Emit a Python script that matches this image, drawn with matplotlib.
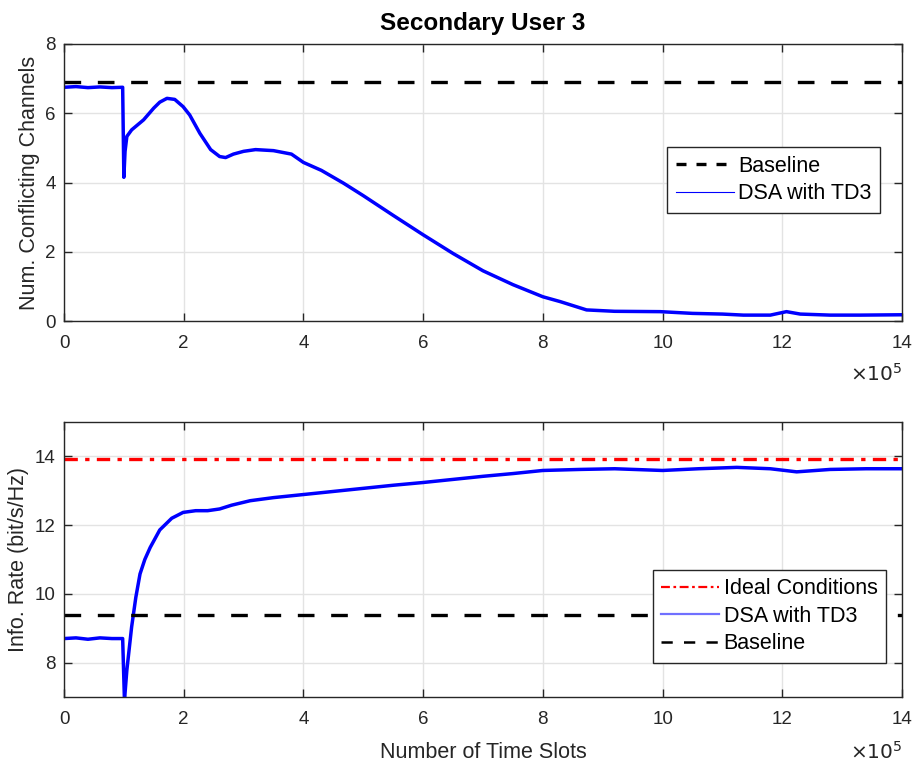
import matplotlib
matplotlib.use("Agg")
import matplotlib.pyplot as plt
from matplotlib.lines import Line2D

plt.rcParams['font.family'] = ['Liberation Sans', 'DejaVu Sans']

# time axis in units of 1e5 slots
x_top = [0, 0.2, 0.4, 0.6, 0.8, 0.98, 1.0, 1.02, 1.05, 1.13, 1.33, 1.5, 1.6, 1.72, 1.85,
         1.99, 2.1, 2.27, 2.45, 2.6, 2.7, 2.83, 3.0, 3.2, 3.5, 3.8, 4.0, 4.3, 4.67, 5.0,
         5.5, 6.0, 6.5, 7.0, 7.5, 8.0, 8.29, 8.73, 9.2, 9.96, 10.5, 11.0, 11.35, 11.8,
         12.07, 12.3, 12.8, 13.3, 14.0]
conflicts_td3 = [6.75, 6.77, 6.74, 6.76, 6.74, 6.75, 4.15, 4.9, 5.33, 5.52, 5.81, 6.15, 6.32,
                 6.43, 6.4, 6.19, 5.95, 5.42, 4.95, 4.75, 4.72, 4.82, 4.9, 4.95, 4.92, 4.82,
                 4.58, 4.35, 3.98, 3.62, 3.05, 2.49, 1.95, 1.45, 1.05, 0.7, 0.56, 0.32, 0.28,
                 0.27, 0.22, 0.2, 0.17, 0.17, 0.27, 0.2, 0.17, 0.17, 0.18]
conflicts_baseline = 6.9

x_bot = [0, 0.2, 0.4, 0.6, 0.8, 0.98, 1.01, 1.05, 1.13, 1.2, 1.27, 1.35, 1.44, 1.6, 1.8,
         1.99, 2.2, 2.4, 2.6, 2.8, 3.11, 3.5, 4.0, 4.5, 5.0, 5.5, 6.0, 6.5, 7.0, 7.5, 8.0,
         8.62, 9.2, 10.0, 10.6, 11.24, 11.8, 12.24, 12.8, 13.4, 14.0]
rate_td3 = [8.7, 8.72, 8.68, 8.72, 8.7, 8.7, 6.9, 7.78, 9.04, 9.9, 10.58, 11.0, 11.35, 11.86,
            12.2, 12.37, 12.42, 12.42, 12.47, 12.58, 12.71, 12.8, 12.89, 12.98, 13.07, 13.16,
            13.24, 13.33, 13.42, 13.5, 13.59, 13.62, 13.64, 13.59, 13.64, 13.68, 13.64, 13.55,
            13.62, 13.64, 13.64]
rate_ideal = 13.93
rate_baseline = 9.4

xticks = [0, 2, 4, 6, 8, 10, 12, 14]

fig = plt.figure(figsize=(9.14, 7.68), dpi=100)
ax1 = fig.add_axes([64 / 914, 1 - 321 / 768, 838 / 914, 277 / 768])
ax2 = fig.add_axes([64 / 914, 1 - 697 / 768, 838 / 914, 275 / 768])

tick_col = '#262626'
for ax in (ax1, ax2):
    ax.set_xlim(0, 14)
    ax.set_xticks(xticks)
    ax.grid(True, color='#e3e3e3', lw=1.0)
    ax.set_axisbelow(True)
    ax.tick_params(direction='in', top=True, right=True, labelsize=13.5, colors=tick_col,
                   length=6, width=1)
    ax.tick_params(axis='x', pad=10)
    ax.tick_params(axis='y', pad=6)
    for sp in ax.spines.values():
        sp.set_color(tick_col)
        sp.set_linewidth(1.0)

# exponent labels, placed in figure pixels below each axis
fig.text(902 / 914, 1 - 374 / 768, r'$\times10^5$', ha='right', va='center',
         fontsize=14.5, color=tick_col)
fig.text(902 / 914, 1 - 752 / 768, r'$\times10^5$', ha='right', va='center',
         fontsize=14.5, color=tick_col)

leg_kw = dict(loc='lower right', fontsize=15.5, handlelength=2.7, handletextpad=0.2,
              borderpad=0.4, labelspacing=0.3, fancybox=False, framealpha=1,
              edgecolor=tick_col, borderaxespad=0)

# top panel
ax1.axhline(conflicts_baseline, color='k', lw=2.4, ls=(0, (5, 5)))
ax1.plot(x_top, conflicts_td3, color='#0000ff', lw=2.5)
ax1.set_ylim(0, 8)
ax1.set_yticks([0, 2, 4, 6, 8])
ax1.set_ylabel('Num. Conflicting Channels', fontsize=15.5, color=tick_col, labelpad=4)
ax1.set_title('Secondary User 3', fontsize=17.5, fontweight='bold', pad=10)
h1 = [Line2D([], [], color='k', lw=2.4, ls=(0, (3, 3))),
      Line2D([], [], color='#0000ff', lw=0.8)]
ax1.legend(h1, ['Baseline', 'DSA with TD3'], bbox_to_anchor=(0.974, 0.39), **leg_kw)

# bottom panel
ax2.axhline(rate_ideal, color='#ff0000', lw=2.4, ls=(0, (4, 2.2, 1.3, 2.2)))
ax2.plot(x_bot, rate_td3, color='#0000ff', lw=2.5)
ax2.axhline(rate_baseline, color='k', lw=2.4, ls=(0, (5, 5)))
ax2.set_ylim(7, 15)
ax2.set_yticks([8, 10, 12, 14])
ax2.set_ylabel('Info. Rate (bit/s/Hz)', fontsize=15.5, color=tick_col, labelpad=4)
ax2.set_xlabel('Number of Time Slots', fontsize=15.5, color=tick_col, labelpad=10)
h2 = [Line2D([], [], color='#ff0000', lw=1.6, ls=(0, (4, 1.6, 1.2, 1.6))),
      Line2D([], [], color='#7070ff', lw=1.6),
      Line2D([], [], color='k', lw=1.8, ls=(0, (4.5, 4.5)))]
ax2.legend(h2, ['Ideal Conditions', 'DSA with TD3', 'Baseline'],
           bbox_to_anchor=(0.981, 0.124), **leg_kw)

fig.savefig('out.png', dpi=100)
plt.close(fig)
